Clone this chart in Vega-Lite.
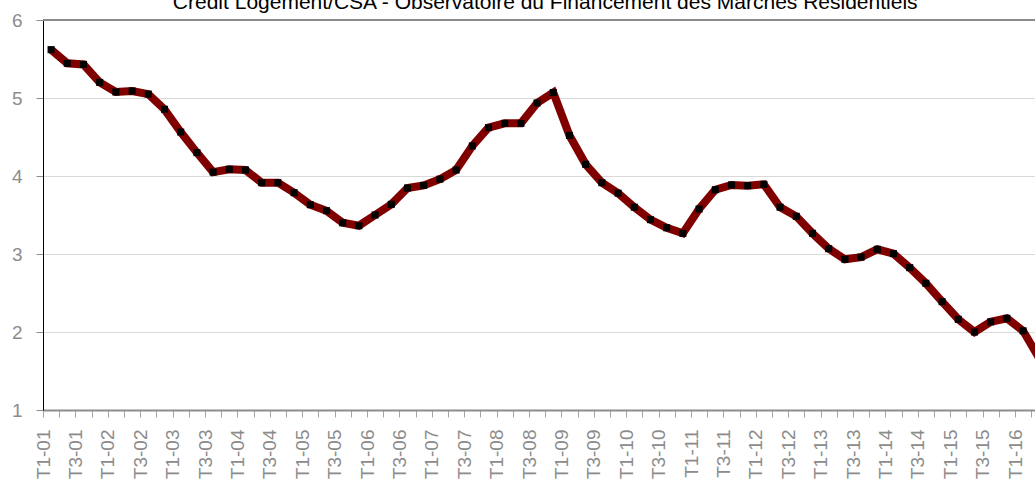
{
  "$schema": "https://vega.github.io/schema/vega-lite/v6.json",
  "width": 1004.4,
  "height": 390,
  "autosize": {"type": "none"},
  "padding": {"left": 43, "top": 20, "right": -12.4, "bottom": 71},
  "background": "white",
  "title": {
    "text": "Crédit Logement/CSA - Observatoire du Financement des Marchés Résidentiels",
    "font": "Liberation Sans",
    "fontSize": 21,
    "fontWeight": "normal",
    "color": "#000000",
    "anchor": "middle",
    "offset": -2
  },
  "config": {
    "view": {"stroke": null},
    "axis": {"labelFont": "Liberation Sans", "titleFont": "Liberation Sans"}
  },
  "data": {
    "values": [
      {"q": "T1-01", "v": 5.62}, {"q": "T2-01", "v": 5.445}, {"q": "T3-01", "v": 5.43}, {"q": "T4-01", "v": 5.2},
      {"q": "T1-02", "v": 5.077}, {"q": "T2-02", "v": 5.09}, {"q": "T3-02", "v": 5.05}, {"q": "T4-02", "v": 4.855},
      {"q": "T1-03", "v": 4.564}, {"q": "T2-03", "v": 4.3}, {"q": "T3-03", "v": 4.05}, {"q": "T4-03", "v": 4.086},
      {"q": "T1-04", "v": 4.077}, {"q": "T2-04", "v": 3.914}, {"q": "T3-04", "v": 3.914}, {"q": "T4-04", "v": 3.786},
      {"q": "T1-05", "v": 3.632}, {"q": "T2-05", "v": 3.555}, {"q": "T3-05", "v": 3.4}, {"q": "T4-05", "v": 3.363},
      {"q": "T1-06", "v": 3.5}, {"q": "T2-06", "v": 3.637}, {"q": "T3-06", "v": 3.846}, {"q": "T4-06", "v": 3.88},
      {"q": "T1-07", "v": 3.96}, {"q": "T2-07", "v": 4.077}, {"q": "T3-07", "v": 4.385}, {"q": "T4-07", "v": 4.62},
      {"q": "T1-08", "v": 4.675}, {"q": "T2-08", "v": 4.675}, {"q": "T3-08", "v": 4.936}, {"q": "T4-08", "v": 5.07},
      {"q": "T1-09", "v": 4.52}, {"q": "T2-09", "v": 4.15}, {"q": "T3-09", "v": 3.914}, {"q": "T4-09", "v": 3.78},
      {"q": "T1-10", "v": 3.6}, {"q": "T2-10", "v": 3.44}, {"q": "T3-10", "v": 3.337}, {"q": "T4-10", "v": 3.265},
      {"q": "T1-11", "v": 3.577}, {"q": "T2-11", "v": 3.824}, {"q": "T3-11", "v": 3.885}, {"q": "T4-11", "v": 3.876},
      {"q": "T1-12", "v": 3.893}, {"q": "T2-12", "v": 3.6}, {"q": "T3-12", "v": 3.483}, {"q": "T4-12", "v": 3.265},
      {"q": "T1-13", "v": 3.068}, {"q": "T2-13", "v": 2.932}, {"q": "T3-13", "v": 2.96}, {"q": "T4-13", "v": 3.06},
      {"q": "T1-14", "v": 3.004}, {"q": "T2-14", "v": 2.825}, {"q": "T3-14", "v": 2.624}, {"q": "T4-14", "v": 2.389},
      {"q": "T1-15", "v": 2.163}, {"q": "T2-15", "v": 2.0}, {"q": "T3-15", "v": 2.13}, {"q": "T4-15", "v": 2.175},
      {"q": "T1-16", "v": 2.015}, {"q": "T2-16", "v": 1.66}
    ]
  },
  "layer": [
    {
      "mark": {"type": "line", "color": "#800000", "strokeWidth": 8},
      "encoding": {
        "x": {
          "field": "q",
          "type": "ordinal",
          "sort": null,
          "scale": {"type": "band", "paddingInner": 0, "paddingOuter": 0},
          "axis": {
            "title": null,
            "labelAngle": -90,
            "labelFontSize": 19,
            "labelColor": "#8c8c8c",
            "labelPadding": 12,
            "labelOverlap": false,
            "labelExpr": "indexof(datum.value, 'T2') == 0 || indexof(datum.value, 'T4') == 0 ? '' : datum.value",
            "tickOffset": -8.1,
            "tickColor": "#a6a6a6",
            "tickSize": 7,
            "domainColor": "#8c8c8c",
            "domainWidth": 2,
            "grid": false
          }
        },
        "y": {
          "field": "v",
          "type": "quantitative",
          "scale": {"domain": [1, 6], "nice": false, "zero": false},
          "axis": {
            "title": null,
            "values": [1, 2, 3, 4, 5, 6],
            "format": "d",
            "labelFontSize": 19,
            "labelColor": "#8c8c8c",
            "labelPadding": 14,
            "tickColor": "#8c8c8c",
            "tickSize": 7,
            "domainColor": "#000000",
            "domainWidth": 1,
            "grid": true,
            "gridColor": "#d9d9d9"
          }
        }
      }
    },
    {
      "mark": {"type": "point", "shape": "square", "filled": true, "color": "#000000", "opacity": 1, "size": 50},
      "encoding": {
        "x": {"field": "q", "type": "ordinal", "sort": null},
        "y": {"field": "v", "type": "quantitative"}
      }
    },
    {
      "mark": {"type": "rule", "color": "#8c8c8c", "strokeWidth": 2},
      "encoding": {"y": {"datum": 6}}
    }
  ]
}
